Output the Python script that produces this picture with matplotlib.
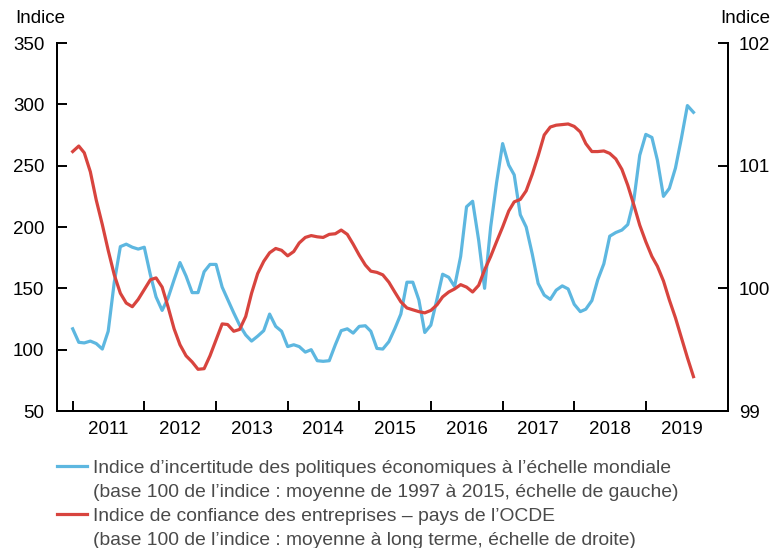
import matplotlib
matplotlib.use("Agg")
import matplotlib.pyplot as plt
from matplotlib.lines import Line2D
import pandas as pd

plt.rcParams['font.family'] = ['Liberation Sans', 'DejaVu Sans']

# ---- data ----
start_month = '2011-01-01'
uncertainty = [117, 106, 105.5, 107, 105, 100.5, 115, 155, 184, 186,
               183.5, 182, 183.5, 161, 143, 132, 142, 157, 171, 160,
               146.5, 146.5, 163.5, 169.5, 169.5, 151, 141, 130, 120, 112,
               107, 111, 115.5, 129, 119, 115, 102.5, 104, 102.5, 98,
               100, 91, 90.5, 91, 104, 115.5, 117, 113.5, 119, 119.5,
               115, 101, 100.5, 106.5, 117, 129, 155, 155, 140.5, 114,
               120, 141, 161.5, 159, 151.5, 176, 216.5, 221, 189, 150,
               200, 236, 268, 250.5, 242.5, 210, 200, 178, 154, 144.5,
               141, 148.5, 152, 149.5, 137, 131, 133, 140, 157, 170,
               192.5, 195.5, 197.5, 202, 222, 258.5, 275.5, 273, 254.5, 225,
               231.5, 248, 272, 299, 293.5]
confidence = [101.115, 101.16, 101.105, 100.95, 100.72, 100.52, 100.31, 100.11, 99.96, 99.88,
              99.85, 99.91, 99.99, 100.07, 100.085, 100.01, 99.85, 99.67, 99.54, 99.45,
              99.40, 99.34, 99.345, 99.45, 99.58, 99.71, 99.705, 99.65, 99.665, 99.77,
              99.96, 100.12, 100.22, 100.29, 100.325, 100.31, 100.265, 100.30, 100.37, 100.415,
              100.43, 100.42, 100.415, 100.44, 100.445, 100.475, 100.44, 100.36, 100.27, 100.19,
              100.14, 100.13, 100.11, 100.05, 99.97, 99.89, 99.84, 99.825, 99.81, 99.80,
              99.82, 99.865, 99.93, 99.97, 99.995, 100.03, 100.01, 99.97, 100.025, 100.15,
              100.26, 100.38, 100.50, 100.63, 100.705, 100.725, 100.795, 100.93, 101.08, 101.25,
              101.315, 101.33, 101.335, 101.34, 101.32, 101.275, 101.18, 101.115, 101.115, 101.12,
              101.10, 101.055, 100.97, 100.84, 100.68, 100.515, 100.38, 100.26, 100.18, 100.06,
              99.905, 99.76, 99.60, 99.435, 99.28]
years = [2011, 2012, 2013, 2014, 2015, 2016, 2017, 2018, 2019]
left_ticks = [50, 100, 150, 200, 250, 300, 350]
right_ticks = [99, 100, 101, 102]
label_blue = ["Indice d\u2019incertitude des politiques \u00e9conomiques \u00e0 l\u2019\u00e9chelle mondiale",
              "(base 100 de l\u2019indice : moyenne de 1997 \u00e0 2015, \u00e9chelle de gauche)"]
label_red = ["Indice de confiance des entreprises \u2013 pays de l\u2019OCDE",
             "(base 100 de l\u2019indice : moyenne \u00e0 long terme, \u00e9chelle de droite)"]

dates = pd.date_range(start_month, periods=len(uncertainty), freq='MS')

BLUE = '#5DB7E0'
RED = '#D8443E'
W, H = 772, 548

fig = plt.figure(figsize=(W / 100, H / 100), dpi=100)
ax = fig.add_axes([57 / W, 1 - 411 / H, (728 - 57) / W, (411 - 43) / H])
ax2 = ax.twinx()

ax.plot(dates, uncertainty, color=BLUE, lw=2.3, solid_joinstyle='round')
ax2.plot(dates, confidence, color=RED, lw=2.3, solid_joinstyle='round')

ax.set_ylim(50, 350)
ax2.set_ylim(99, 102)
ax.set_yticks(left_ticks)
ax2.set_yticks(right_ticks)
ax.set_xlim(pd.Timestamp('2010-10-13'), pd.Timestamp('2020-02-24'))

ax.set_xticks([pd.Timestamp(f'{y}-01-01') for y in years])
ax.set_xticklabels([])
ax.set_xticks([pd.Timestamp(f'{y}-07-02') for y in years], minor=True)
ax.set_xticklabels([str(y) for y in years], minor=True)

for a in (ax, ax2):
    a.spines['top'].set_visible(False)
    for s in a.spines.values():
        s.set_linewidth(1.4)
    a.tick_params(axis='both', which='major', direction='in', length=7.5, width=1.4,
                  labelsize=13.5, colors='black')
ax.tick_params(axis='x', which='minor', length=0, labelsize=13.5, pad=7.5)
ax.tick_params(axis='y', pad=9)
ax2.tick_params(axis='y', pad=8)

fig.text(15 / W, 1 - 22.7 / H, 'Indice', fontsize=13.5, va='baseline', ha='left')
fig.text(770 / W, 1 - 22.7 / H, 'Indice', fontsize=13.5, va='baseline', ha='right')

# legend
TXT = '#4a4a4a'
for yline, col in ((465.7, BLUE), (513.5, RED)):
    fig.add_artist(Line2D([56.7 / W, 86.5 / W], [1 - yline / H] * 2, color=col, lw=2.3,
                          transform=fig.transFigure))
baselines = [472.7, 496.7, 521, 545]
texts = label_blue + label_red
for b, t in zip(baselines, texts):
    fig.text(92.7 / W, 1 - b / H, t, fontsize=13.9, color=TXT, va='baseline', ha='left')

fig.savefig('out.png', dpi=100)
